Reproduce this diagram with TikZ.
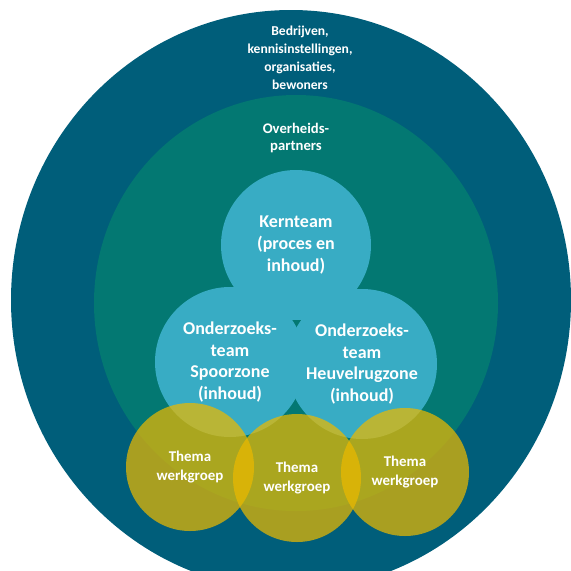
\documentclass[tikz,border=0pt]{standalone}
\usepackage{fontspec}
\setmainfont{Carlito}
\usepackage{tikz}
\usetikzlibrary{shapes.geometric}
\definecolor{outerteal}{RGB}{0,94,122}
\definecolor{partnergreen}{RGB}{3,120,114}
\definecolor{teamblue}{RGB}{56,172,196}
\definecolor{themagold}{RGB}{235,185,0}
\newlength\px
\setlength\px{0.75pt}

\begin{document}
\begin{tikzpicture}[x=0.75pt, y=-0.75pt,
		every node/.style={text=white, align=center, inner sep=0pt},
		ring/.style={ellipse, inner sep=0pt},
		team/.style={circle, fill=teamblue, minimum size=150\px, font=\bfseries\fontsize{13.5}{16.2}\selectfont},
		thema/.style={circle, fill=themagold, fill opacity=.72, text opacity=1, minimum size=128\px, font=\bfseries\fontsize{11.2}{14.2}\selectfont},
		ringtext/.style={font=\bfseries\fontsize{10.2}{13.5}\selectfont}]
		\useasboundingbox (0,0) rectangle (571,571);
		% rings
		\node[ring, fill=outerteal, minimum width=560\px, minimum height=580\px] (stake) at (291,300) {};
		\node[ring, fill=partnergreen, minimum width=404\px, minimum height=416\px] (gov) at (296,303) {};
		\node[ringtext] (stakeT) at (300,58) {Bedrijven,\\kennisinstellingen,\\organisaties,\\bewoners};
		\node[ringtext, font=\bfseries\fontsize{11}{13}\selectfont] (govT) at (296,138) {Overheids-\\partners};
		% teams
		\node[team] (kern) at (296,245) {Kernteam\\(proces en\\inhoud)};
		\node[team] (spoor) at (230,362) {Onderzoeks-\\team\\Spoorzone\\(inhoud)};
		\node[team] (heuvel) at (362,364) {Onderzoeks-\\team\\Heuvelrugzone\\(inhoud)};
		% werkgroepen
		\node[thema] (wg1) at (190,467) {Thema\\werkgroep};
		\node[thema] (wg2) at (297,478) {Thema\\werkgroep};
		\node[thema] (wg3) at (405,472) {Thema\\werkgroep};
	\end{tikzpicture}
\end{document}
